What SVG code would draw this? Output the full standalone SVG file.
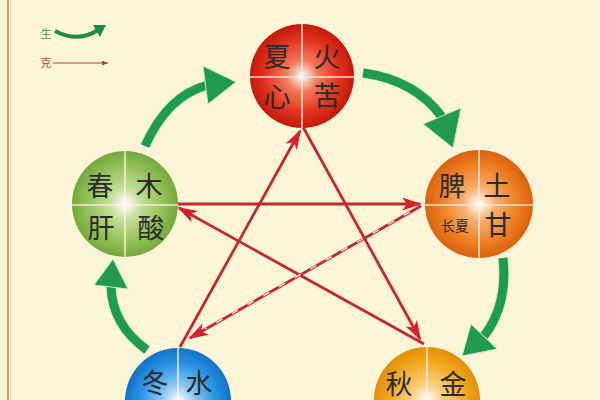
<svg xmlns="http://www.w3.org/2000/svg" width="600" height="400" viewBox="0 0 600 400">
<defs>
<style>
.lbl{font-family:"Noto Sans CJK SC","Noto Sans",sans-serif;font-size:27px;fill:#2b2b2b;text-anchor:middle;dominant-baseline:central}
.div{stroke:#fff3ea;stroke-width:1.6;opacity:0.85}
.red{stroke:#bf2a30;stroke-width:2.8;fill:none}
.grn{stroke:#1f9a4e;stroke-width:9;fill:none;stroke-linecap:butt}
.grnglow{stroke:#c8ecc0;stroke-width:11;fill:none;opacity:0.7}
.ah{fill:#1f9a4e;stroke:#c8ecc0;stroke-width:1;stroke-linejoin:round}
</style>
<radialGradient id="gFire" cx="50%" cy="50%" r="50%">
<stop offset="0" stop-color="#ffffff"/><stop offset="0.3" stop-color="#f47a5a"/><stop offset="0.72" stop-color="#e2321e"/><stop offset="1" stop-color="#c2180c"/>
</radialGradient>
<radialGradient id="gWood" cx="50%" cy="50%" r="50%">
<stop offset="0" stop-color="#ffffff"/><stop offset="0.3" stop-color="#c4de96"/><stop offset="0.72" stop-color="#92c156"/><stop offset="1" stop-color="#74a83c"/>
</radialGradient>
<radialGradient id="gEarth" cx="50%" cy="50%" r="50%">
<stop offset="0" stop-color="#ffffff"/><stop offset="0.3" stop-color="#f6b070"/><stop offset="0.72" stop-color="#ee7e22"/><stop offset="1" stop-color="#d9620e"/>
</radialGradient>
<radialGradient id="gMetal" cx="50%" cy="50%" r="50%">
<stop offset="0" stop-color="#ffffff"/><stop offset="0.3" stop-color="#f8d080"/><stop offset="0.72" stop-color="#f2a91e"/><stop offset="1" stop-color="#e08e08"/>
</radialGradient>
<radialGradient id="gWater" cx="50%" cy="50%" r="50%">
<stop offset="0" stop-color="#ffffff"/><stop offset="0.3" stop-color="#8cc8f2"/><stop offset="0.72" stop-color="#2892e2"/><stop offset="1" stop-color="#1272c8"/>
</radialGradient>
<marker id="rarrow" markerUnits="userSpaceOnUse" markerWidth="20" markerHeight="13" refX="18" refY="6.5" orient="auto">
<path d="M0,0 L20,6.5 L0,13 L5,6.5 z" fill="#d8202a"/>
</marker>
<marker id="smarrow" markerUnits="userSpaceOnUse" markerWidth="6" markerHeight="5" refX="6" refY="2.5" orient="auto">
<path d="M0,0 L6,2.5 L0,5 z" fill="#a04848"/>
</marker>
</defs>
<rect width="600" height="400" fill="#fcf4d6"/>
<line x1="8" y1="0" x2="8" y2="400" stroke="#c9a25e" stroke-width="2"/>
<line x1="10.5" y1="0" x2="10.5" y2="400" stroke="#e6cd98" stroke-width="1"/>

<g id="legend">
<text x="46" y="33" style="font-family:'Noto Sans CJK SC',sans-serif;font-size:11px;fill:#2a9a5a;text-anchor:middle;dominant-baseline:central">生</text>
<path d="M55,31 Q78,43 98,30" stroke="#1f8a4a" stroke-width="4" fill="none"/>
<path d="M93,25 L106,25 L100,37 z" fill="#1f8a4a"/>
<text x="46" y="62" style="font-family:'Noto Sans CJK SC',sans-serif;font-size:11px;fill:#d04040;text-anchor:middle;dominant-baseline:central">克</text>
<line x1="53" y1="63" x2="108" y2="63" stroke="#a04848" stroke-width="1" marker-end="url(#smarrow)"/>
</g>

<g id="connectors">
<g id="sheng">
<path class="grnglow" d="M145,146 Q168,95 208,85"/>
<path class="grn" d="M145,146 Q168,95 208,85"/>
<path class="ah" d="M203,66 L236,82 L208,104 z"/>
<path class="grnglow" d="M363,73 Q415,80 442,117"/>
<path class="grn" d="M363,73 Q415,80 442,117"/>
<path class="ah" d="M423,124 L461,108 L453,148 z"/>
<path class="grnglow" d="M503,258 Q508,305 484,336"/>
<path class="grn" d="M503,258 Q508,305 484,336"/>
<path class="ah" d="M471,324 L497,349 L462,356 z"/>
<path class="grnglow" d="M147,350 Q112,325 111,286"/>
<path class="grn" d="M147,350 Q112,325 111,286"/>
<path class="ah" d="M94,285 L128,289 L113,259 z"/>
</g>
<g id="ke">
<line class="red" x1="303" y1="127" x2="420" y2="339" marker-end="url(#rarrow)"/>
<line class="red" x1="424" y1="344" x2="179" y2="208" marker-end="url(#rarrow)"/>
<line class="red" x1="177" y1="204" x2="420" y2="204" marker-end="url(#rarrow)"/>
<line class="red" x1="421" y1="206" x2="190" y2="338" marker-end="url(#rarrow)"/>
<line x1="410" y1="212" x2="205" y2="329" stroke="#ffffff" stroke-width="1.4" stroke-dasharray="7 11" opacity="0.85"/>
<line class="red" x1="180" y1="347" x2="300" y2="131" marker-end="url(#rarrow)"/>
</g>
</g>

<g id="fire">
<circle cx="302" cy="76" r="52" fill="url(#gFire)"/>
<line class="div" x1="302" y1="24" x2="302" y2="128"/>
<line class="div" x1="250" y1="77" x2="354" y2="77"/>
<text class="lbl" x="277" y="55">夏</text>
<text class="lbl" x="327" y="55">火</text>
<text class="lbl" x="277" y="95">心</text>
<text class="lbl" x="327" y="94">苦</text>
</g>

<g id="wood">
<circle cx="125" cy="204" r="53" fill="url(#gWood)"/>
<line class="div" x1="125" y1="151" x2="125" y2="257"/>
<line class="div" x1="72" y1="205" x2="178" y2="205"/>
<text class="lbl" x="100" y="184">春</text>
<text class="lbl" x="149" y="184">木</text>
<text class="lbl" x="101" y="226">肝</text>
<text class="lbl" x="151" y="226">酸</text>
</g>

<g id="earth">
<circle cx="479" cy="204" r="54" fill="url(#gEarth)"/>
<line class="div" x1="479" y1="150" x2="479" y2="258"/>
<line class="div" x1="425" y1="205" x2="533" y2="205"/>
<text class="lbl" x="452" y="184">脾</text>
<text class="lbl" x="497" y="184">土</text>
<text class="lbl" x="455" y="225" style="font-size:14px">长夏</text>
<text class="lbl" x="498" y="223">甘</text>
</g>

<g id="metal">
<circle cx="427" cy="400" r="53" fill="url(#gMetal)"/>
<line class="div" x1="427" y1="347" x2="427" y2="400"/>
<text class="lbl" x="399" y="382">秋</text>
<text class="lbl" x="453" y="382">金</text>
</g>

<g id="water">
<circle cx="178" cy="401" r="53" fill="url(#gWater)"/>
<line class="div" x1="178" y1="348" x2="178" y2="400"/>
<text class="lbl" x="155" y="381">冬</text>
<text class="lbl" x="199" y="381">水</text>
</g>
</svg>
